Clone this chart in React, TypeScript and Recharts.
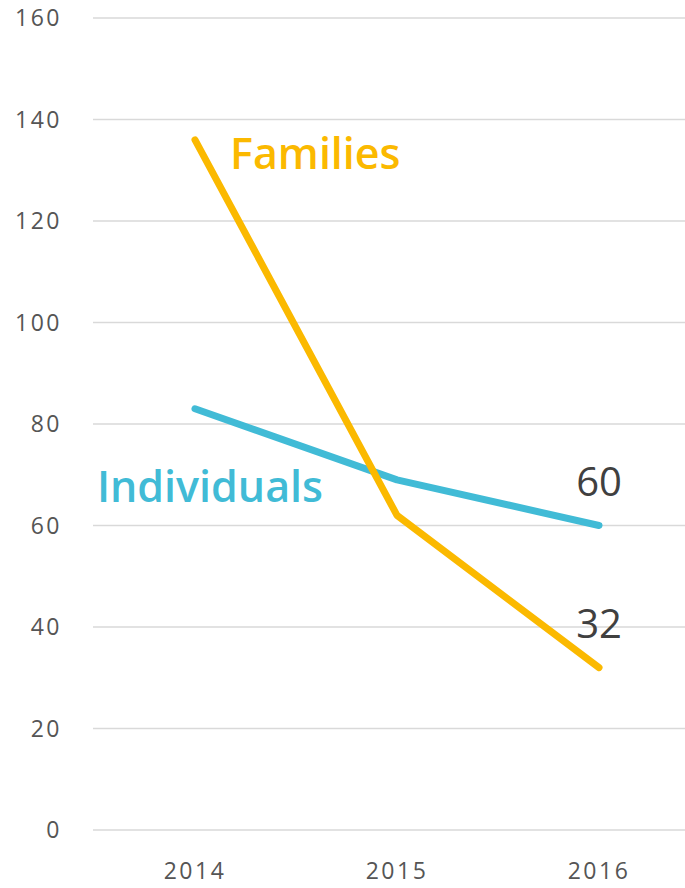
import React from 'react';
import { LineChart, Line, XAxis, YAxis, CartesianGrid, LabelList } from 'recharts';

const years = ['2014', '2015', '2016'];
const families = [136, 62, 32];
const individuals = [83, 69, 60];
const yTicks = [0, 20, 40, 60, 80, 100, 120, 140, 160];

const data = years.map((year, i) => ({ year, families: families[i], individuals: individuals[i] }));

const ORANGE = '#FBB900';
const TEAL = '#41BBD6';
const FONT = '"Open Sans", sans-serif';

const tickStyle = { fontFamily: FONT, fontSize: 23, fill: '#555555', letterSpacing: 2.5 };

const makeLabel = (name: string, color: string, nameIndex: number, anchor: 'start' | 'end', ndx: number, ndy: number) =>
  (props: any) => {
    const { x, y, value, index } = props;
    if (index === nameIndex) {
      return (
        <text x={x + ndx} y={y + ndy} textAnchor={anchor} fill={color} fontFamily={FONT} fontSize={43} fontWeight={600}>
          {name}
        </text>
      );
    }
    if (index === years.length - 1) {
      return (
        <text x={x} y={y - 30} textAnchor="middle" fill="#404040" fontFamily={FONT} fontSize={40}>
          {value}
        </text>
      );
    }
    return null;
  };

export default function App() {
  return (
    <div style={{ position: 'absolute', left: 0, top: 0, background: '#fff' }}>
      <LineChart width={685} height={888} data={data} margin={{ top: 18, right: 0, bottom: 0, left: 0 }}>
        <CartesianGrid vertical={false} stroke="#d9d9d9" strokeWidth={1.5} />
        <XAxis
          dataKey="year"
          axisLine={false}
          tickLine={false}
          height={58}
          tickMargin={27}
          padding={{ left: 102, right: 86 }}
          tick={tickStyle}
        />
        <YAxis
          domain={[0, 160]}
          ticks={yTicks}
          width={93}
          axisLine={false}
          tickLine={false}
          tickMargin={25}
          tick={tickStyle}
        />
        <Line
          dataKey="individuals"
          stroke={TEAL}
          strokeWidth={7}
          strokeLinecap="round"
          strokeLinejoin="round"
          dot={false}
          isAnimationActive={false}
        >
          <LabelList dataKey="individuals" content={makeLabel('Individuals', TEAL, 1, 'end', -74, 22)} />
        </Line>
        <Line
          dataKey="families"
          stroke={ORANGE}
          strokeWidth={7}
          strokeLinecap="round"
          strokeLinejoin="round"
          dot={false}
          isAnimationActive={false}
        >
          <LabelList dataKey="families" content={makeLabel('Families', ORANGE, 0, 'start', 35, 29)} />
        </Line>
      </LineChart>
    </div>
  );
}
